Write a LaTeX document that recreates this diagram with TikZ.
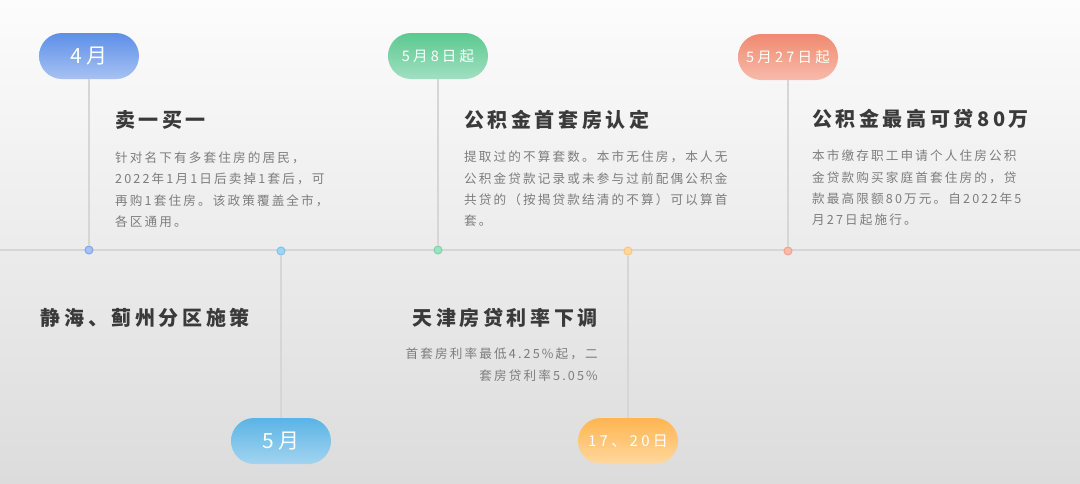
\documentclass[tikz,border=0pt]{standalone}
\usepackage{fontspec}
\usepackage{tikz}
\usetikzlibrary{positioning}
\newfontfamily\headfont[LetterSpace=18]{Noto Sans CJK SC}
\newfontfamily\bodyfont[LetterSpace=17]{Noto Sans CJK SC}
\newfontfamily\pillfont[LetterSpace=22]{Noto Sans CJK SC}
\definecolor{bgtop}{RGB}{252,252,252}
\definecolor{bgbot}{RGB}{220,220,220}
\definecolor{axisgray}{RGB}{214,214,214}
\definecolor{headgray}{RGB}{58,58,58}
\definecolor{bodygray}{RGB}{125,125,125}
\definecolor{blueA}{RGB}{94,143,232}
\definecolor{blueB}{RGB}{166,194,242}
\definecolor{cyanA}{RGB}{90,180,229}
\definecolor{cyanB}{RGB}{162,212,240}
\definecolor{greenA}{RGB}{92,201,143}
\definecolor{greenB}{RGB}{160,224,194}
\definecolor{orangeA}{RGB}{255,181,80}
\definecolor{orangeB}{RGB}{255,216,158}
\definecolor{salmonA}{RGB}{240,138,112}
\definecolor{salmonB}{RGB}{248,186,170}
\tikzset{
  pill/.style  = {rounded corners=23pt, minimum width=100pt, minimum height=46pt, inner sep=0pt, text=white},
  stem/.style  = {draw=axisgray, line width=1.5pt},
  axis/.style  = {draw=axisgray, line width=2pt},
  dot/.style   = {circle, inner sep=0pt, minimum size=8pt, line width=1pt},
  head/.style  = {inner sep=0pt, text=headgray, font={\headfont\bfseries\fontsize{20}{24}\selectfont}},
  body/.style  = {inner sep=0pt, text=bodygray, align=left, font={\bodyfont\fontsize{12.6}{21.3}\selectfont}},
}

\begin{document}
\begin{tikzpicture}[x=1pt, y=-1pt]
  \useasboundingbox (0,0) rectangle (1080,483);
  \shade[top color=bgtop, bottom color=bgbot] (0,0) rectangle (1080,483);

  % time axis
  \coordinate (axl) at (0,250);
  \coordinate (axr) at (1080,250);
  \draw[axis] (axl) -- (axr);

  % dates
  \node[pill, top color=blueA, bottom color=blueB, font={\pillfont\fontsize{21}{24}\selectfont}] (p1) at (89,56) {4月};
  \node[pill, top color=cyanA, bottom color=cyanB, font={\pillfont\fontsize{21}{24}\selectfont}] (p2) at (281,441) {5月};
  \node[pill, top color=greenA, bottom color=greenB, font={\pillfont\fontsize{14.5}{18}\selectfont}] (p3) at (438,56) {5月8日起};
  \node[pill, top color=orangeA, bottom color=orangeB, font={\pillfont\fontsize{15}{18}\selectfont}] (p4) at (628,441) {17、20日};
  \node[pill, top color=salmonA, bottom color=salmonB, font={\pillfont\fontsize{14.5}{18}\selectfont}] (p5) at (788,57) {5月27日起};

  \node[dot, fill=blueB, draw=blueA!80] (d1) at (89,250) {};
  \node[dot, fill=cyanB, draw=cyanA!80] (d2) at (281,251) {};
  \node[dot, fill=greenB, draw=greenA!80] (d3) at (438,250) {};
  \node[dot, fill=orangeB, draw=orangeA!80] (d4) at (628,251) {};
  \node[dot, fill=salmonB, draw=salmonA!80] (d5) at (788,251) {};

  \draw[stem] (p1) -- (d1);
  \draw[stem] (d2) -- (p2);
  \draw[stem] (p3) -- (d3);
  \draw[stem] (d4) -- (p4);
  \draw[stem] (p5) -- (d5);

  % events
  \node[head, anchor=west] (t1) at (115,120) {卖一买一};
  \node[body, below=22pt of t1.south west, anchor=north west] (b1) {针对名下有多套住房的居民，\\2022年1月1日后卖掉1套后，可\\再购1套住房。该政策覆盖全市，\\各区通用。};

  \node[head, anchor=east] (t2) at (250,318) {静海、蓟州分区施策};

  \node[head, anchor=west] (t3) at (464,120) {公积金首套房认定};
  \node[body, below=21pt of t3.south west, anchor=north west] (b3) {提取过的不算套数。本市无住房，本人无\\公积金贷款记录或未参与过前配偶公积金\\共贷的（按揭贷款结清的不算）可以算首\\套。};

  \node[head, anchor=east] (t4) at (598,318) {天津房贷利率下调};
  \node[body, align=right, below=20pt of t4.south east, anchor=north east] (b4) {首套房利率最低4.25\%起，二\\套房贷利率5.05\%};

  \node[head, anchor=west] (t5) at (812,119) {公积金最高可贷80万};
  \node[body, below=21pt of t5.south west, anchor=north west] (b5) {本市缴存职工申请个人住房公积\\金贷款购买家庭首套住房的，贷\\款最高限额80万元。自2022年5\\月27日起施行。};
\end{tikzpicture}
\end{document}
